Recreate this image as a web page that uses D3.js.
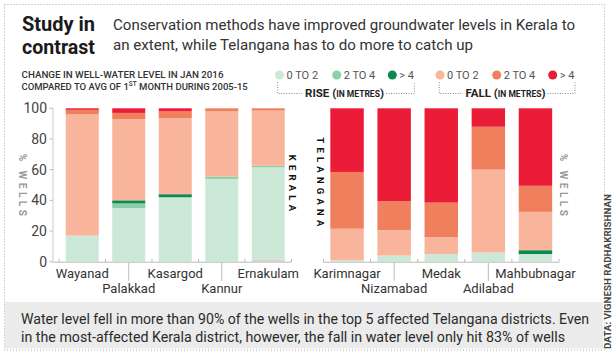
<!DOCTYPE html>
<html>
<head>
<meta charset="utf-8">
<script src="https://cdn.jsdelivr.net/npm/d3@7"></script>
<style>
html,body{margin:0;padding:0;background:#fff;}
svg{display:block;font-family:Roboto,"Noto Sans",sans-serif;}
</style>
</head>
<body>
<svg id="chart" width="615" height="353"></svg>
<script>
// ---- DATA ----
const keralaDistricts = ["Wayanad","Palakkad","Kasargod","Kannur","Ernakulam"];
const keralaNoChange  = [0, 0, 0, 0, 1.5];
const keralaRise0to2  = [17, 35, 42, 54, 60];
const keralaRise2to4  = [0, 3, 0, 1.5, 1];
const keralaRiseOver4 = [0, 2, 2, 0, 0];
const keralaFall0to2  = [79, 53, 49.5, 42.5, 36];
const keralaFall2to4  = [3, 4, 4.5, 2, 1.5];
const keralaFallOver4 = [1, 3, 2, 0, 0];

const telanganaDistricts = ["Karimnagar","Nizamabad","Medak","Adilabad","Mahbubnagar"];
const telanganaNoChange  = [0, 0, 0, 0, 0];
const telanganaRise0to2  = [1, 4, 5, 6, 5];
const telanganaRise2to4  = [0, 0, 0, 0, 0];
const telanganaRiseOver4 = [0, 0, 0, 0, 2.5];
const telanganaFall0to2  = [20.5, 16.5, 11, 54, 25];
const telanganaFall2to4  = [37, 19, 22.5, 28, 17];
const telanganaFallOver4 = [41.5, 60.5, 61.5, 12, 50.5];

const yTicks = [0, 20, 40, 60, 80, 100];
const legendLabels = ["0 TO 2", "2 TO 4", "> 4"];

// ---- SETUP ----
const keys = ["none","r02","r24","r4","f02","f24","f4"];
const colors = {
  none:"#d3d3d3", r02:"#cce8d6", r24:"#8ccfa7", r4:"#0b8a4e",
  f02:"#f9b59c", f24:"#f07f5d", f4:"#eb1c37"
};
const svg = d3.select("#chart");
const y = d3.scaleLinear().domain([0,100]).range([261.7,108.3]);

function rows(names, arrs){
  return names.map((n,i)=>{
    const o={name:n};
    keys.forEach((k,j)=>o[k]=arrs[j][i]);
    return o;
  });
}
const keralaRows = rows(keralaDistricts,[keralaNoChange,keralaRise0to2,keralaRise2to4,keralaRiseOver4,keralaFall0to2,keralaFall2to4,keralaFallOver4]);
const telRows = rows(telanganaDistricts,[telanganaNoChange,telanganaRise0to2,telanganaRise2to4,telanganaRiseOver4,telanganaFall0to2,telanganaFall2to4,telanganaFallOver4]);

// border
svg.append("rect").attr("x",4.5).attr("y",4.5).attr("width",600).attr("height",345.5)
  .attr("fill","none").attr("stroke","#aaa").attr("stroke-dasharray","1,2");

// titles
svg.append("text").attr("x",22).attr("y",31).attr("font-size",20).attr("font-weight",700)
  .attr("fill","#1a1a1a").attr("textLength",73).attr("lengthAdjust","spacingAndGlyphs").text("Study in");
svg.append("text").attr("x",22).attr("y",53.5).attr("font-size",20).attr("font-weight",700)
  .attr("fill","#1a1a1a").attr("textLength",73).attr("lengthAdjust","spacingAndGlyphs").text("contrast");
svg.append("text").attr("x",113).attr("y",30).attr("font-size",15.5).attr("fill","#333")
  .attr("textLength",462).attr("lengthAdjust","spacingAndGlyphs")
  .text("Conservation methods have improved groundwater levels in Kerala to");
svg.append("text").attr("x",113).attr("y",50).attr("font-size",15.5).attr("fill","#333")
  .attr("textLength",360).attr("lengthAdjust","spacingAndGlyphs")
  .text("an extent, while Telangana has to do more to catch up");

// subtitle
svg.append("text").attr("x",21.5).attr("y",78).attr("font-size",9.5).attr("font-weight",500)
  .attr("fill","#333").attr("textLength",202).attr("lengthAdjust","spacingAndGlyphs")
  .text("CHANGE IN WELL-WATER LEVEL IN JAN 2016");
const sub2 = svg.append("text").attr("x",21.5).attr("y",90).attr("font-size",9.5).attr("font-weight",500).attr("fill","#333");
sub2.append("tspan").text("COMPARED TO AVG OF 1");
sub2.append("tspan").attr("dy",-4).attr("font-size",6.5).text("ST");
sub2.append("tspan").attr("dy",4).text(" MONTH DURING 2005-15");

// legend
const riseX = [279.5, 336.7, 392.3];
const fallX = [440, 496.7, 552.7];
const riseKeys = ["r02","r24","r4"], fallKeys = ["f02","f24","f4"];
legendLabels.forEach((lab,i)=>{
  svg.append("circle").attr("cx",riseX[i]).attr("cy",75).attr("r",4.5).attr("fill",colors[riseKeys[i]]);
  svg.append("text").attr("x",riseX[i]+7).attr("y",79).attr("font-size",11).attr("fill","#555").text(lab);
  svg.append("circle").attr("cx",fallX[i]).attr("cy",75).attr("r",4.5).attr("fill",colors[fallKeys[i]]);
  svg.append("text").attr("x",fallX[i]+7).attr("y",79).attr("font-size",11).attr("fill","#555").text(lab);
});
function bracket(x0,x1,t0,t1,label,cx){
  const g = svg.append("g").attr("stroke","#888").attr("stroke-dasharray","1,1.5").attr("fill","none");
  g.append("path").attr("d",`M${x0},82 V93.5 H${t0}`);
  g.append("path").attr("d",`M${t1},93.5 H${x1} V82`);
  const t = svg.append("text").attr("x",cx).attr("y",97).attr("text-anchor","middle")
    .attr("font-size",11.5).attr("font-weight",700).attr("fill","#222");
  t.append("tspan").text(label+" (");
  t.append("tspan").attr("font-size",8.5).text("IN METRES");
  t.append("tspan").text(")");
}
bracket(277.7,414.3,302,386,"RISE",344.5);
bracket(439.3,575,463,547.5,"FALL",505.5);

// y axis (left)
const ya = svg.append("g");
ya.append("line").attr("x1",53).attr("x2",53).attr("y1",y(100)).attr("y2",y(0)).attr("stroke","#ccc");
yTicks.forEach(v=>{
  ya.append("line").attr("x1",49.5).attr("x2",53).attr("y1",y(v)).attr("y2",y(v)).attr("stroke","#bbb");
  ya.append("text").attr("x",47).attr("y",y(v)+5).attr("text-anchor","end").attr("font-size",14)
    .attr("fill","#444").text(v);
});

function vtext(x,yc,txt,opts){
  svg.append("text").attr("transform",`translate(${x},${yc}) rotate(90)`)
    .attr("text-anchor","middle").attr("dy","0.35em")
    .attr("font-size",opts.size).attr("font-weight",700).attr("fill",opts.fill)
    .attr("letter-spacing",opts.ls).text(txt);
}
vtext(22.5,186.5,"% WELLS",{size:10,fill:"#999",ls:3.5});
vtext(563,186.5,"% WELLS",{size:10,fill:"#999",ls:3.5});
vtext(292,185,"KERALA",{size:9.5,fill:"#111",ls:4.2});
vtext(320,184,"TELANGANA",{size:9.5,fill:"#111",ls:4.2});

function panel(rowsData, names, range, axisStart){
  const x = d3.scaleBand().domain(names).range(range).paddingInner(0.29).paddingOuter(0.145);
  const stacked = d3.stack().keys(keys)(rowsData);
  const g = svg.append("g");
  stacked.forEach(layer=>{
    g.selectAll(null).data(layer).join("rect")
      .attr("x",d=>x(d.data.name)).attr("width",x.bandwidth())
      .attr("y",d=>y(d[1])).attr("height",d=>Math.max(0,y(d[0])-y(d[1])))
      .attr("fill",colors[layer.key]);
  });
  svg.append("line").attr("x1",axisStart).attr("x2",range[1]).attr("y1",262.2).attr("y2",262.2).attr("stroke","#bbb");
  const step = x.step();
  for(let i=0;i<=names.length;i++){
    const tx = range[0]+i*step;
    svg.append("line").attr("x1",tx).attr("x2",tx).attr("y1",259).attr("y2",262.2).attr("stroke","#bbb");
  }
  names.forEach((n,i)=>{
    const cx = x(n)+x.bandwidth()/2;
    const row = i%2;
    if(row===1){
      svg.append("line").attr("x1",cx).attr("x2",cx).attr("y1",263).attr("y2",281).attr("stroke","#bbb");
    }
    svg.append("text").attr("x",cx).attr("y",row===0?277.5:292.5).attr("text-anchor","middle")
      .attr("font-size",13).attr("fill","#333").text(n);
  });
}
panel(keralaRows, keralaDistricts, [59,291.5], 53);
panel(telRows, telanganaDistricts, [323.5,559], 323.5);

// bottom note box
svg.append("rect").attr("x",5).attr("y",302).attr("width",598).attr("height",46.5).attr("fill","#ebebeb");
svg.append("text").attr("x",21).attr("y",324).attr("font-size",14.5).attr("fill","#2a2a2a")
  .attr("textLength",568).attr("lengthAdjust","spacingAndGlyphs")
  .text("Water level fell in more than 90% of the wells in the top 5 affected Telangana districts. Even");
svg.append("text").attr("x",21).attr("y",342).attr("font-size",14.5).attr("fill","#2a2a2a")
  .attr("textLength",544).attr("lengthAdjust","spacingAndGlyphs")
  .text("in the most-affected Kerala district, however, the fall in water level only hit 83% of wells");

// credit
svg.append("text").attr("transform","translate(611,349) rotate(-90)")
  .attr("font-size",9).attr("font-weight",700).attr("fill","#444")
  .attr("textLength",155).attr("lengthAdjust","spacingAndGlyphs")
  .text("DATA: VIGNESH RADHAKRISHNAN");
</script>
</body>
</html>
